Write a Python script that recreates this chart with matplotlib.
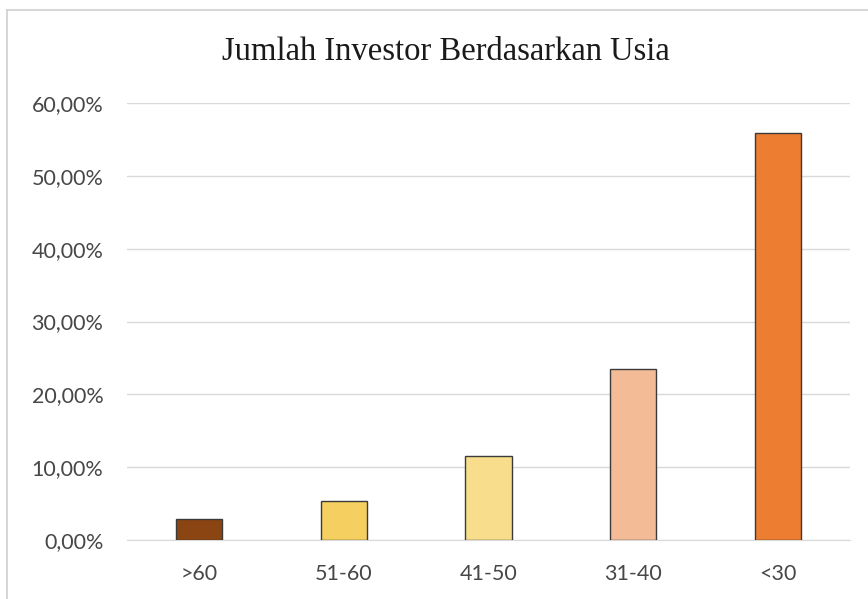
import matplotlib.pyplot as plt
from matplotlib.ticker import FuncFormatter
from matplotlib.lines import Line2D

# data
kelompok_usia = ['>60', '51-60', '41-50', '31-40', '<30']
persen = [2.9, 5.42, 11.49, 23.5, 55.9]
warna = ['#8B4513', '#F5CF60', '#F8DD8C', '#F4BC96', '#ED7D31']

fig = plt.figure(figsize=(8.68, 5.99), dpi=100)
ax = fig.add_axes([127/868, 1 - 540/599, 723/868, 437/599])

x = range(len(kelompok_usia))
ax.bar(x, persen, width=0.32, color=warna, edgecolor='#3a3a3a', linewidth=1.0, zorder=3)

ax.set_xlim(-0.5, len(kelompok_usia) - 0.5)
ax.set_ylim(0, 60)
ax.set_yticks(range(0, 61, 10))
ax.yaxis.set_major_formatter(FuncFormatter(lambda v, p: f'{v:.2f}%'.replace('.', ',')))
ax.set_xticks(list(x))
ax.set_xticklabels(kelompok_usia)

ax.grid(axis='y', color='#d9d9d9', linewidth=1.0, zorder=0)
for s in ['top', 'right', 'left']:
    ax.spines[s].set_visible(False)
ax.spines['bottom'].set_color('#d9d9d9')
ax.tick_params(axis='both', length=0, labelsize=15.5, labelcolor='#474747')
ax.tick_params(axis='y', pad=17)
ax.tick_params(axis='x', pad=17)
for lab in ax.get_xticklabels() + ax.get_yticklabels():
    lab.set_fontfamily('Lato')

fig.text(446/868, 1 - 52/599, 'Jumlah Investor Berdasarkan Usia', ha='center', va='center',
         fontsize=23.5, fontfamily='Liberation Serif', color='#1a1a1a')

# chart frame
fig.add_artist(Line2D([7/868, 7/868], [0, 1 - 10/599], transform=fig.transFigure, color='#d0d0d0', lw=1.2))
fig.add_artist(Line2D([7/868, 1], [1 - 10/599, 1 - 10/599], transform=fig.transFigure, color='#d0d0d0', lw=1.2))

fig.savefig('out.png', dpi=100)
